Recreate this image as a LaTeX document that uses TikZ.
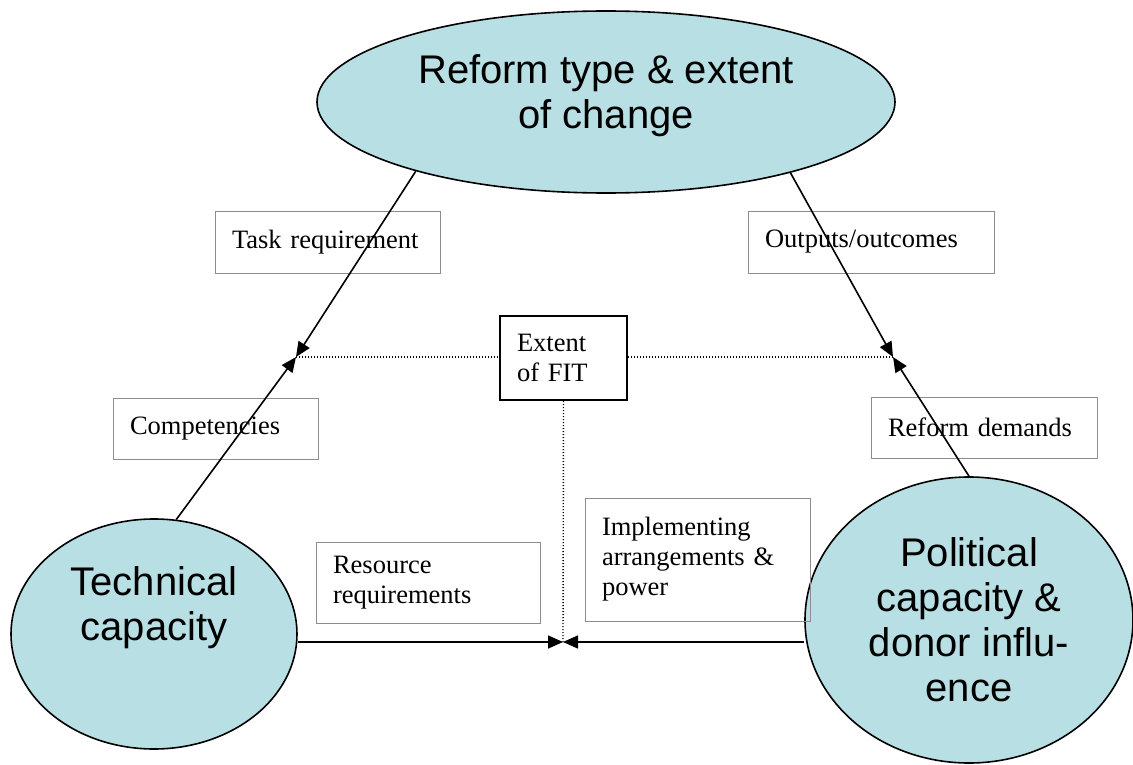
\documentclass[tikz,border=0pt]{standalone}
\usepackage{fontspec}
\setmainfont{Liberation Serif}
\newfontfamily\capfont{Liberation Sans}
\usetikzlibrary{shapes.geometric,arrows.meta}
\definecolor{capfill}{RGB}{184,223,227}
\tikzset{
  capacity/.style={ellipse,draw,line width=1.6pt,fill=capfill,inner sep=0pt},
  captext/.style={align=center,inner sep=0pt,font=\capfont\fontsize{40}{45}\selectfont},
  linkbox/.style={draw=black!45,line width=1pt,align=left,inner xsep=17pt,inner ysep=0pt,
    font=\fontsize{26.5}{30}\selectfont},
  link/.style={line width=1.6pt,-{Triangle[length=15pt,width=13pt]}},
  fitline/.style={line width=1.4pt,dash pattern=on 1.2pt off 1.8pt}
}
\begin{document}
\begin{tikzpicture}[x=1pt,y=-1pt]
	\useasboundingbox (0,0) rectangle (1133,765);
	% the three corners
	\node [capacity,minimum width=578,minimum height=182] (reform) at (606,102) {};
	\node [capacity,minimum width=286,minimum height=230] (tech) at (154,634) {};
	\node [capacity,minimum width=328,minimum height=286] (pol) at (969,620) {};
	\node [captext] (reformtxt) at (606,96) {Reform type \& extent\\of change};
	\node [captext] (techtxt) at (154,608) {Technical\\capacity};
	\node [captext] (poltxt) at (969,620) {Political\\capacity \&\\donor influ-\\ence};
	% labels along the sides
	\node [linkbox,text width=191,minimum height=62] (task) at (327.5,242) {Task requirement};
	\node [linkbox,text width=212,minimum height=62] (outc) at (871,242) {Outputs/outcomes};
	\node [linkbox,text width=171,minimum height=61] (comp) at (215.5,428.5) {Competencies};
	\node [linkbox,text width=192,minimum height=61] (demand) at (984,427.5) {Reform demands};
	\node [linkbox,text width=190,minimum height=81] (resrc) at (428,582.5) {Resource\\requirements};
	\node [linkbox,text width=191,minimum height=123] (impl) at (697.5,559.5) {Implementing\\arrangements \&\\power};
	\node [linkbox,draw=black,line width=2pt,text width=93,minimum height=84] (fit) at (563.5,358) {Extent\\of FIT};
	\coordinate (fitL) at (296,357);
	\coordinate (fitR) at (893,357);
	\coordinate (meet) at (563,642);
	% arrows
	\draw [link] (reform.200) -- (fitL);
	\draw [link] (tech.79) -- (fitL);
	\draw [link] (reform.339) -- (fitR);
	\draw [link] (pol.north) -- (fitR);
	\draw [link] (tech.east |- meet) -- (meet);
	\draw [link] (pol.west |- meet) -- (meet);
	\draw [fitline] (fitL) -- (fit.west |- fitL);
	\draw [fitline] (fit.east |- fitR) -- (fitR);
	\draw [fitline] (fit.south) -- (meet);
\end{tikzpicture}
\end{document}
